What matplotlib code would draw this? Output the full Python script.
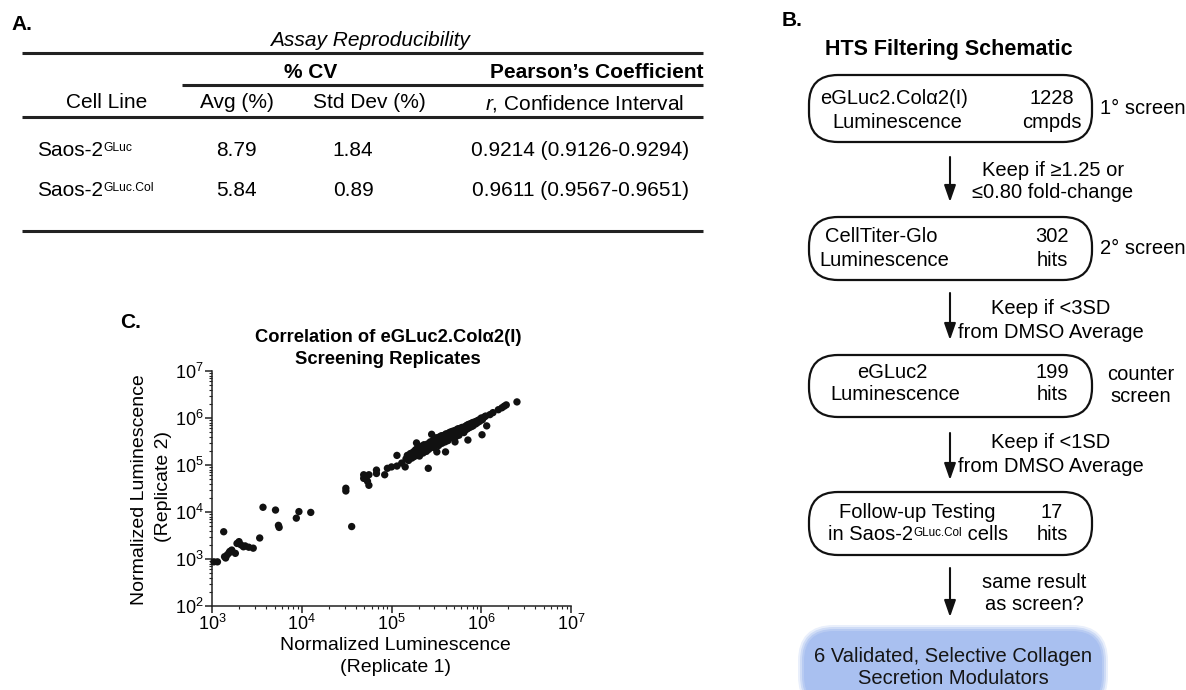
import matplotlib
matplotlib.use('Agg')
import matplotlib.pyplot as plt
from matplotlib.patches import FancyBboxPatch
from matplotlib.ticker import LogLocator, NullFormatter

plt.rcParams['font.family'] = ['Liberation Sans', 'DejaVu Sans']
plt.rcParams['mathtext.fontset'] = 'custom'
plt.rcParams['mathtext.rm'] = 'Liberation Sans'
plt.rcParams['mathtext.it'] = 'Liberation Sans:italic'
plt.rcParams['mathtext.bf'] = 'Liberation Sans:bold'

# ---- A. table data
cell_lines = ['Saos-2', 'Saos-2']
cell_sups = ['GLuc', 'GLuc.Col']
cv_avg = [8.79, 5.84]
cv_sd = [1.84, 0.89]
pearson_r = [0.9214, 0.9611]
ci_low = [0.9126, 0.9567]
ci_high = [0.9294, 0.9651]

# ---- B. schematic data
stage_line1 = ['eGLuc2.Col\u03b12(I)', 'CellTiter-Glo', 'eGLuc2', 'Follow-up Testing']
stage_line2 = ['Luminescence', 'Luminescence', 'Luminescence', ['in Saos-2', 'GLuc.Col', ' cells']]
stage_counts = ['1228', '302', '199', '17']
stage_units = ['cmpds', 'hits', 'hits', 'hits']
stage_tags = [['1\u00b0 screen'], ['2\u00b0 screen'], ['counter', 'screen'], []]
filter_rules = [['Keep if \u22651.25 or', '\u22640.80 fold-change'],
                ['Keep if <3SD', 'from DMSO Average'],
                ['Keep if <1SD', 'from DMSO Average'],
                ['same result', 'as screen?']]
final_result = ['6 Validated, Selective Collagen', 'Secretion Modulators']

# ---- C. scatter data (replicate 1 = x, replicate 2 = y)
low_rep1 = [1.05e3, 1.15e3, 1.35e3, 1.38e3, 1.42e3, 1.48e3, 1.55e3, 1.58e3, 1.66e3, 1.82e3,
            1.9e3, 2.0e3, 2.1e3, 2.24e3, 2.34e3, 2.57e3, 2.88e3, 3.4e3, 3.7e3, 5.1e3,
            5.5e3, 5.6e3, 8.7e3, 9.3e3, 1.26e4]
low_rep2 = [870, 870, 3.8e3, 1.12e3, 1.05e3, 1.23e3, 1.35e3, 1.45e3, 1.55e3, 1.32e3,
            2.14e3, 2.34e3, 2.0e3, 1.82e3, 1.9e3, 1.78e3, 1.7e3, 2.8e3, 1.26e4, 1.1e4,
            5.2e3, 4.7e3, 7.4e3, 1.02e4, 9.8e3]

mid_rep1 = [3.1e4, 3.1e4, 3.6e4, 4.9e4, 5.6e4, 5.2e4, 4.9e4, 5.4e4, 5.6e4, 6.8e4,
            6.8e4, 8.4e4, 9.0e4, 1.0e5, 1.15e5, 1.15e5, 1.3e5, 1.42e5, 1.9e5]
mid_rep2 = [3.2e4, 2.8e4, 4.9e3, 6.2e4, 6.2e4, 5.2e4, 5.2e4, 4.5e4, 3.7e4, 7.8e4,
            6.6e4, 6.2e4, 8.5e4, 9.1e4, 9.5e4, 1.6e5, 1.1e5, 9.1e4, 2.95e5]

outlier_rep1 = [2.57e5, 3.2e5, 4.0e5, 5.1e5, 7.1e5, 1.02e6, 1.15e6]
outlier_rep2 = [8.5e4, 1.9e5, 1.9e5, 3.1e5, 3.4e5, 4.4e5, 6.8e5]

main_rep1 = [1.45e5, 1.5e5, 1.55e5, 1.6e5, 1.62e5, 1.68e5, 1.7e5, 1.75e5, 1.78e5, 1.82e5,
             1.85e5, 1.9e5, 1.92e5, 1.95e5, 2.0e5, 2.0e5, 2.05e5, 2.1e5, 2.12e5, 2.15e5,
             2.2e5, 2.25e5, 2.28e5, 2.3e5, 2.35e5, 2.4e5, 2.45e5, 2.5e5, 2.52e5, 2.58e5,
             2.6e5, 2.65e5, 2.7e5, 2.72e5, 2.78e5, 2.8e5, 2.85e5, 2.9e5, 2.95e5, 3.0e5,
             3.0e5, 3.05e5, 3.1e5, 3.15e5, 3.2e5, 3.22e5, 3.28e5, 3.3e5, 3.35e5, 3.4e5,
             3.45e5, 3.5e5, 3.52e5, 3.58e5, 3.6e5, 3.65e5, 3.7e5, 3.75e5, 3.8e5, 3.85e5,
             3.9e5, 3.95e5, 4.0e5, 4.05e5, 4.1e5, 4.15e5, 4.2e5, 4.25e5, 4.3e5, 4.35e5,
             4.4e5, 4.45e5, 4.5e5, 4.55e5, 4.6e5, 4.7e5, 4.75e5, 4.8e5, 4.85e5, 4.9e5,
             5.0e5, 5.05e5, 5.1e5, 5.2e5, 5.25e5, 5.3e5, 5.4e5, 5.45e5, 5.5e5, 5.6e5,
             5.65e5, 5.7e5, 5.8e5, 5.9e5, 6.0e5, 6.1e5, 6.2e5, 6.3e5, 6.4e5, 6.5e5,
             6.6e5, 6.7e5, 6.8e5, 6.9e5, 7.0e5, 7.1e5, 7.2e5, 7.3e5, 7.45e5, 7.6e5,
             7.7e5, 7.85e5, 8.0e5, 8.1e5, 8.3e5, 8.5e5, 8.7e5, 8.9e5, 9.1e5, 9.3e5,
             9.6e5, 9.8e5, 1.0e6, 1.03e6, 1.08e6, 1.12e6, 1.25e6, 1.35e6, 1.55e6, 1.7e6,
             1.8e6, 1.9e6, 2.5e6]
main_rep2 = [1.35e5, 1.6e5, 1.25e5, 1.5e5, 1.75e5, 1.4e5, 1.62e5, 1.9e5, 1.5e5, 1.7e5,
             2.1e5, 1.6e5, 1.85e5, 2.3e5, 1.75e5, 2.0e5, 1.55e5, 2.2e5, 1.9e5, 2.5e5,
             2.05e5, 1.8e5, 2.35e5, 2.7e5, 2.1e5, 2.45e5, 1.95e5, 2.3e5, 2.8e5, 2.5e5,
             2.15e5, 2.7e5, 3.1e5, 2.4e5, 2.9e5, 4.5e5, 2.6e5, 3.3e5, 2.35e5, 2.9e5,
             3.5e5, 2.65e5, 3.15e5, 3.8e5, 2.8e5, 3.4e5, 3.0e5, 3.7e5, 2.6e5, 3.25e5,
             4.0e5, 3.0e5, 3.55e5, 3.3e5, 4.2e5, 2.9e5, 3.6e5, 3.9e5, 3.3e5, 4.3e5,
             3.7e5, 3.1e5, 4.0e5, 4.6e5, 3.5e5, 3.85e5, 4.4e5, 3.3e5, 4.1e5, 4.8e5,
             3.7e5, 4.3e5, 5.0e5, 3.9e5, 4.5e5, 4.1e5, 5.2e5, 4.6e5, 3.8e5, 4.9e5,
             4.3e5, 5.4e5, 4.7e5, 4.0e5, 5.0e5, 5.6e5, 4.6e5, 5.2e5, 5.9e5, 4.9e5,
             4.3e5, 5.4e5, 6.0e5, 5.1e5, 5.6e5, 6.3e5, 5.3e5, 5.8e5, 4.9e5, 6.1e5,
             6.6e5, 5.6e5, 6.3e5, 7.0e5, 5.9e5, 6.6e5, 7.3e5, 6.2e5, 6.9e5, 7.6e5,
             6.5e5, 7.2e5, 8.0e5, 6.8e5, 7.6e5, 8.3e5, 7.5e5, 8.6e5, 8.0e5, 9.0e5,
             8.5e5, 9.5e5, 1.0e6, 9.2e5, 1.05e6, 1.1e6, 1.18e6, 1.3e6, 1.5e6, 1.65e6,
             1.78e6, 1.9e6, 2.2e6]

W, H = 1186, 690
fig = plt.figure(figsize=(W / 100, H / 100), dpi=100)

# full-figure canvas in pixel coordinates for the table and the schematic
ax0 = fig.add_axes([0, 0, 1, 1])
ax0.set_xlim(0, W)
ax0.set_ylim(H, 0)
ax0.axis('off')


def sup_text(x, y, base, sup, size, tail=''):
    # base text followed by a small raised superscript (and optional trailing text)
    t = ax0.text(x, y, base, fontsize=size, ha='left', va='center')
    s = ax0.annotate(sup, xy=(1, 1), xycoords=t, xytext=(0.5, -1), textcoords='offset points',
                     fontsize=size * 0.58, ha='left', va='top')
    if tail:
        ax0.annotate(tail, xy=(1, 0), xycoords=(s, t), xytext=(0, 0), textcoords='offset points',
                     fontsize=size, ha='left', va='bottom')
    return t


TS = 15
# ---- panel A
ax0.text(11, 24, 'A.', fontsize=15, fontweight='bold', va='center')
ax0.text(370, 40, 'Assay Reproducibility', fontsize=TS, style='italic', ha='center', va='center')
ax0.plot([22, 703], [53, 53], color='#222222', lw=2.2, solid_capstyle='butt')
ax0.plot([182, 703], [85, 85], color='#222222', lw=2.2, solid_capstyle='butt')
ax0.plot([22, 703], [117, 117], color='#222222', lw=2.2, solid_capstyle='butt')
ax0.plot([22, 703], [231, 231], color='#222222', lw=2.2, solid_capstyle='butt')
ax0.text(311, 72, '% CV', fontsize=TS, fontweight='bold', ha='center', va='center')
ax0.text(597, 72, 'Pearson\u2019s Coefficient', fontsize=TS, fontweight='bold', ha='center', va='center')
ax0.text(107, 103, 'Cell Line', fontsize=TS, ha='center', va='center')
ax0.text(237, 103, 'Avg (%)', fontsize=TS, ha='center', va='center')
ax0.text(369, 103, 'Std Dev (%)', fontsize=TS, ha='center', va='center')
ax0.text(585, 103, r'$\it{r}$, Confidence Interval', fontsize=TS, ha='center', va='center')

row_y = [150, 190]
for i in range(len(cell_lines)):
    y = row_y[i]
    sup_text(37, y, cell_lines[i], cell_sups[i], TS)
    ax0.text(236, y, f'{cv_avg[i]:.2f}', fontsize=TS, ha='center', va='center')
    ax0.text(353, y, f'{cv_sd[i]:.2f}', fontsize=TS, ha='center', va='center')
    ax0.text(580, y, f'{pearson_r[i]:.4f} ({ci_low[i]:.4f}-{ci_high[i]:.4f})',
             fontsize=TS, ha='center', va='center')

# ---- panel B
BS = 14.5
ax0.text(782, 21, 'B.', fontsize=15, fontweight='bold', va='center')
ax0.text(949, 50, 'HTS Filtering Schematic', fontsize=15.5, fontweight='bold', ha='center', va='center')

box_top = [75, 217, 355, 492]
box_bot = [142, 280, 417, 555]
name_y = [(98, 122), (237, 260), (372, 395), (512, 535)]
name_x1 = [(820, 'left'), (825, 'left'), (892, 'center'), (917, 'center')]
name_x2 = [(897, 'center'), (819, 'left'), (895, 'center'), (828, 'left')]
tag_pos = [(1100, 'left', [108]), (1100, 'left', [248]), (1141, 'center', [374, 397]), (0, 'left', [])]
for i in range(4):
    box = FancyBboxPatch((809, box_top[i]), 283, box_bot[i] - box_top[i],
                         boxstyle='round,pad=0,rounding_size=29',
                         fc='white', ec='#111111', lw=1.6)
    ax0.add_patch(box)
    y1, y2 = name_y[i]
    ax0.text(name_x1[i][0], y1, stage_line1[i], fontsize=BS, ha=name_x1[i][1], va='center')
    if isinstance(stage_line2[i], list):
        base, sup, tail = stage_line2[i]
        sup_text(name_x2[i][0], y2, base, sup, BS, tail=tail)
    else:
        ax0.text(name_x2[i][0], y2, stage_line2[i], fontsize=BS, ha=name_x2[i][1], va='center')
    ax0.text(1052, y1, stage_counts[i], fontsize=BS, ha='center', va='center')
    ax0.text(1052, y2, stage_units[i], fontsize=BS, ha='center', va='center')
    tx, tha, tys = tag_pos[i]
    for t, ty in zip(stage_tags[i], tys):
        ax0.text(tx, ty, t, fontsize=BS, ha=tha, va='center')

arrow_span = [(157, 202), (293, 340), (433, 480), (568, 617)]
rule_pos = [(1053, (170, 193)), (1051, (308, 332)), (1051, (443, 466)), (1034, (582, 605))]
for i in range(4):
    a, b = arrow_span[i]
    ax0.annotate('', xy=(950, b), xytext=(950, a),
                 arrowprops=dict(arrowstyle='-|>,head_length=1.0,head_width=0.35',
                                 lw=1.5, color='#111111', shrinkA=0, shrinkB=0,
                                 mutation_scale=10))
    rx, rys = rule_pos[i]
    for t, ry in zip(filter_rules[i], rys):
        ax0.text(rx, ry, t, fontsize=BS, ha='center', va='center')

# soft-edged blue result box
for grow, alpha in [(6, 0.25), (4, 0.4), (2, 0.6)]:
    ax0.add_patch(FancyBboxPatch((804 - grow, 631 - grow), 298 + 2 * grow, 75 + 2 * grow,
                                 boxstyle='round,pad=0,rounding_size=%d' % (30 + grow),
                                 fc='#a9c0f0', ec='none', alpha=alpha))
ax0.add_patch(FancyBboxPatch((804, 631), 298, 75, boxstyle='round,pad=0,rounding_size=30',
                             fc='#a9c0f0', ec='none'))
for t, fy in zip(final_result, (656, 679)):
    ax0.text(953, fy, t, fontsize=BS, ha='center', va='center', color='#151515')

# ---- panel C
ax0.text(120, 322, 'C.', fontsize=15, fontweight='bold', va='center')
ax0.text(388, 338, 'Correlation of eGLuc2.Col\u03b12(I)', fontsize=13.2, fontweight='bold',
         ha='center', va='center')
ax0.text(388, 360, 'Screening Replicates', fontsize=13.2, fontweight='bold', ha='center', va='center')
ax0.text(395, 645, 'Normalized Luminescence', fontsize=14, ha='center', va='center')
ax0.text(395, 668, '(Replicate 1)', fontsize=14, ha='center', va='center')
ax0.text(139, 490, 'Normalized Luminescence', fontsize=14, ha='center', va='center', rotation=90)
ax0.text(163, 487, '(Replicate 2)', fontsize=14, ha='center', va='center', rotation=90)

ax = fig.add_axes([212 / W, 1 - 606 / H, 359 / W, 235 / H])
ax.set_xscale('log')
ax.set_yscale('log')
ax.set_xlim(1e3, 1e7)
ax.set_ylim(1e2, 1e7)
dot = dict(s=28, color='#111111', edgecolor='none', clip_on=False, zorder=3)
ax.scatter(low_rep1, low_rep2, **dot)
ax.scatter(mid_rep1, mid_rep2, **dot)
ax.scatter(main_rep1, main_rep2, **dot)
ax.scatter(outlier_rep1, outlier_rep2, **dot)

for s in ['top', 'right']:
    ax.spines[s].set_visible(False)
for s in ['left', 'bottom']:
    ax.spines[s].set_linewidth(1.1)
    ax.spines[s].set_color('#222222')
ax.patch.set_alpha(0)
for axis in (ax.xaxis, ax.yaxis):
    axis.set_major_locator(LogLocator(base=10, numticks=10))
    axis.set_minor_locator(LogLocator(base=10, subs=range(2, 10), numticks=10))
    axis.set_minor_formatter(NullFormatter())
ax.tick_params(which='major', length=5, width=1.1, color='#222222', labelsize=13, pad=1)
ax.tick_params(which='minor', length=2.5, width=0.8, color='#222222')

fig.savefig('out.png', dpi=100)
